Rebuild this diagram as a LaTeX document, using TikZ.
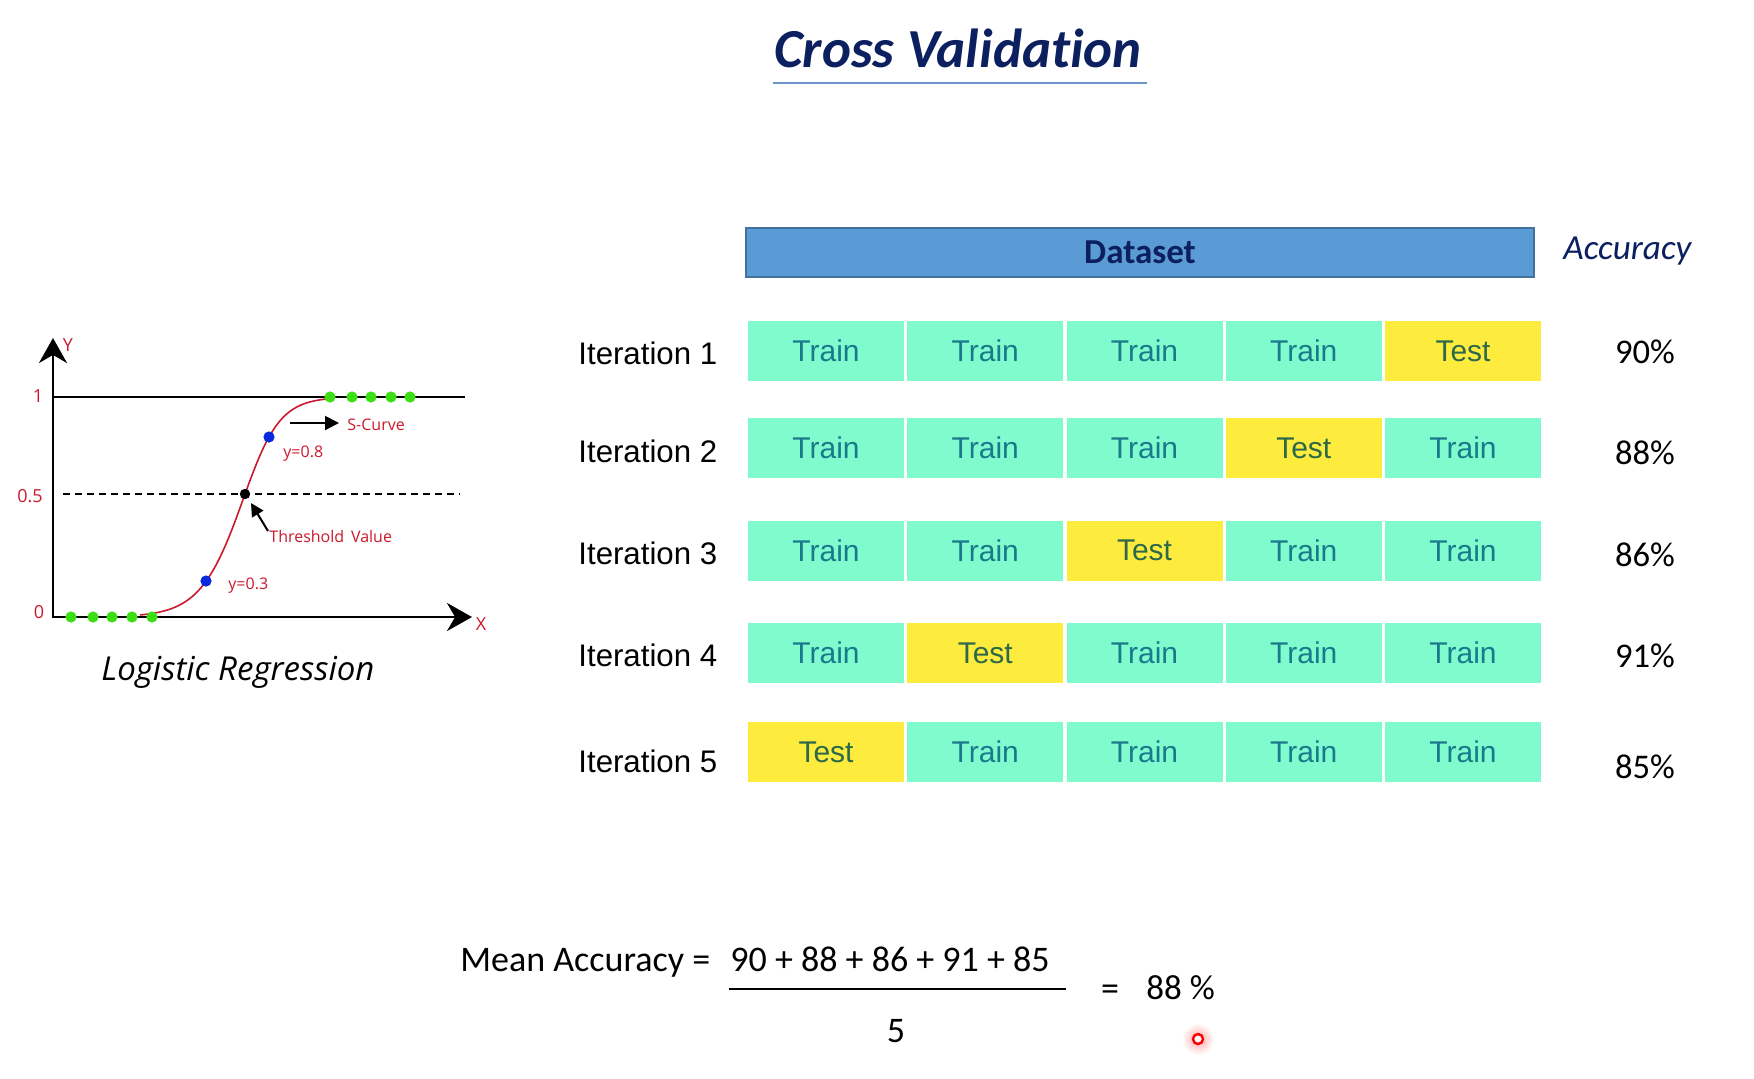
\documentclass[tikz,border=0pt]{standalone}
\usepackage{fontspec}
\setmainfont[Ligatures=NoCommon]{Carlito}
\newfontfamily\arialf{Liberation Sans}
\newfontfamily\opens{Open Sans}
\usetikzlibrary{arrows.meta}

\definecolor{mint}{RGB}{128,251,206}
\definecolor{testyellow}{RGB}{253,236,62}
\definecolor{traintext}{RGB}{24,122,138}
\definecolor{testtext}{RGB}{45,104,72}
\definecolor{dsfill}{RGB}{91,155,213}
\definecolor{dsborder}{RGB}{65,113,156}
\definecolor{navy}{RGB}{12,31,94}
\definecolor{ulinec}{RGB}{110,150,205}
\definecolor{plotred}{RGB}{205,25,45}
\definecolor{dotgreen}{RGB}{60,222,20}
\definecolor{dotblue}{RGB}{10,40,220}

\tikzset{
  cell/.style={minimum width=78pt, minimum height=30pt, inner sep=0pt,
    font=\arialf\fontsize{15}{18}\selectfont},
  trainc/.style={cell, fill=mint, text=traintext},
  testc/.style={cell, fill=testyellow, text=testtext},
  iterlabel/.style={anchor=base west, inner sep=0pt, font=\arialf\fontsize{15.6}{18}\selectfont},
  pct/.style={anchor=base, inner sep=0pt, font=\fontsize{17.3}{20}\selectfont},
  plotlabel/.style={anchor=base west, inner sep=0pt, text=plotred, font=\opens\fontsize{8}{10}\selectfont},
  ticklabel/.style={inner sep=0pt, text=plotred, font=\opens\fontsize{9}{11}\selectfont},
  scurve/.style={draw=plotred, line width=0.8pt},
  formula/.style={anchor=base west, inner sep=0pt, font=\fontsize{18}{21}\selectfont},
  gdot/.style={fill=dotgreen},
  bdot/.style={fill=dotblue}
}

\begin{document}
\begin{tikzpicture}[x=0.5pt,y=-0.5pt]
\useasboundingbox (0,0) rectangle (1754,1078);
\fill[white] (0,0) rectangle (1754,1078);

% ---------- Title ----------
\node[anchor=base, inner sep=0pt, text=navy, font=\bfseries\itshape\fontsize{27.5}{33}\selectfont] (title) at (958,67) {Cross Validation};
\coordinate (ulL) at (773,83);
\coordinate (ulR) at (1147,83);
\draw[ulinec, line width=0.8pt] (ulL) -- (ulR);

% ---------- Dataset bar ----------
\node[draw=dsborder, fill=dsfill, line width=1pt, minimum width=394pt, minimum height=24.5pt, inner sep=0pt,
      text=navy, font=\bfseries\fontsize{17.5}{20}\selectfont] (dataset) at (1140,252.5) {Dataset};
\node[anchor=base west, inner sep=0pt, text=navy, font=\itshape\fontsize{17.6}{20}\selectfont] (acc) at (1563,259) {Accuracy};

% ---------- Folds ----------
\foreach \r/\y in {1/351,2/448,3/550.5,4/653,5/752} {
  \foreach \c/\x in {1/826,2/985.25,3/1144.5,4/1303.75,5/1463} {
    \pgfmathtruncatemacro\tcol{6-\r}
    \ifnum\c=\tcol
      \node[testc] (c\r\c) at (\x,\y) {Test};
    \else
      \node[trainc] (c\r\c) at (\x,\y) {Train};
    \fi
  }
}

% iteration labels
\node[iterlabel] (it1) at (578,364) {Iteration 1};
\node[iterlabel] (it2) at (578,462) {Iteration 2};
\node[iterlabel] (it3) at (578,564) {Iteration 3};
\node[iterlabel] (it4) at (578,666) {Iteration 4};
\node[iterlabel] (it5) at (578,772) {Iteration 5};

% accuracies
\node[pct] (p1) at (1645,363) {90\%};
\node[pct] (p2) at (1645,464) {88\%};
\node[pct] (p3) at (1645,566) {86\%};
\node[pct] (p4) at (1645,667) {91\%};
\node[pct] (p5) at (1645,778) {85\%};

% ---------- Logistic regression plot ----------
\draw[scurve] plot[domain=140:245, samples=70] (\x, {617-246/(1+exp(-(\x-245)/22))});
\draw[scurve] plot[domain=245:330, samples=60] (\x, {397+194*(1-1/(1+exp(-(\x-245)/17.8)))});

\coordinate (ytip) at (53,338);
\coordinate (origin) at (53,617);
\coordinate (xtip) at (472,617);
\draw[black, line width=1.4pt, {Stealth[length=12.5pt,width=14pt]}-{Stealth[length=12.5pt,width=14pt]}] (ytip) -- (origin) -- (xtip);

\coordinate (oneL) at (53,397);
\coordinate (oneR) at (465,397);
\draw[black, line width=1pt] (oneL) -- (oneR);

\coordinate (halfL) at (63,494);
\coordinate (halfR) at (460,494);
\draw[black, line width=1.3pt, dash pattern=on 3.5pt off 2.5pt] (halfL) -- (halfR);

% dots
\foreach \x in {71,93,112,132,152} { \fill[gdot] (\x,617) circle[radius=2.8pt]; }
\foreach \x in {330,352,371,391,410} { \fill[gdot] (\x,397) circle[radius=2.8pt]; }
\fill[bdot] (206,581) circle[radius=2.8pt];
\fill[bdot] (269,437) circle[radius=2.8pt];
\fill[black] (245,494) circle[radius=2.6pt];

% axis labels
\node[ticklabel] (ylab) at (68,345) {Y};
\node[ticklabel] (xlab) at (481,624) {X};
\node[ticklabel] (t1) at (38,396) {1};
\node[ticklabel] (t05) at (30,496) {0.5};
\node[ticklabel] (t0) at (39,612) {0};

% annotations
\node[plotlabel] (scl) at (347,430) {S-Curve};
\coordinate (scS) at (290,423);
\coordinate (scE) at (339,423);
\draw[black, line width=1pt, -{Triangle[length=7pt,width=7pt]}] (scS) -- (scE);

\node[plotlabel] (y08) at (283,457) {y=0.8};
\node[plotlabel] (y03) at (228,589) {y=0.3};
\node[plotlabel] (thr) at (269,542) {Threshold\, Value};
\coordinate (thS) at (268,531);
\coordinate (thE) at (251,503);
\draw[black, line width=1pt, -{Triangle[length=6.5pt,width=6.5pt]}] (thS) -- (thE);

\node[anchor=base, inner sep=0pt, font=\opens\itshape\fontsize{16.5}{19}\selectfont] (lr) at (238,680) {Logistic Regression};

% ---------- Mean accuracy ----------
\node[formula] (ma) at (460,971) {Mean Accuracy =};
\node[anchor=base, inner sep=0pt, font=\fontsize{18}{21}\selectfont] (num) at (890,971) {90 + 88 + 86 + 91 + 85};
\coordinate (fracL) at (729,989);
\coordinate (fracR) at (1066,989);
\draw[black, line width=0.75pt] (fracL) -- (fracR);
\node[anchor=base, inner sep=0pt, font=\fontsize{18}{21}\selectfont] (den) at (896,1042) {5};
\node[anchor=base, inner sep=0pt, font=\fontsize{18}{21}\selectfont] (eq) at (1110,1000) {=};
\node[anchor=base west, inner sep=0pt, font=\fontsize{17.5}{21}\selectfont] (res) at (1146,999) {88 \%};

% cursor mark
\shade[inner color=red!35, outer color=white] (1198,1039) circle[radius=8pt];
\draw[red, line width=1.2pt, fill=white] (1198,1039) circle[radius=2.5pt];
\end{tikzpicture}
\end{document}
